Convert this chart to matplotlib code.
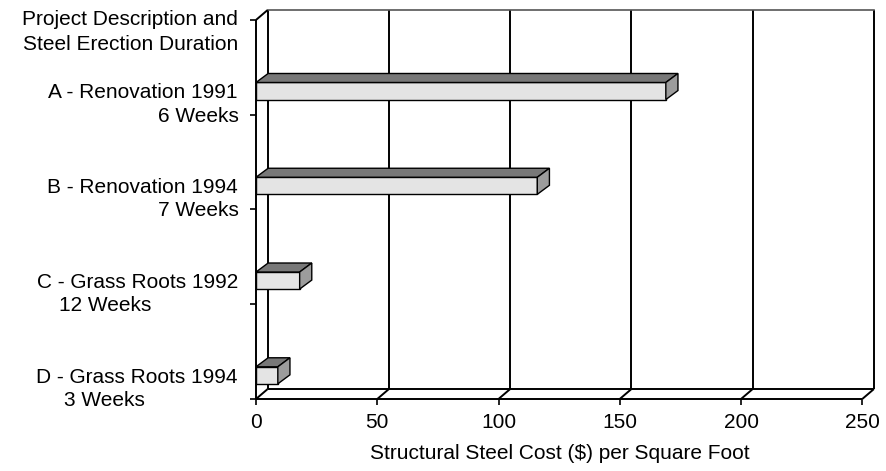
import matplotlib.pyplot as plt
from matplotlib.patches import Polygon
from matplotlib.transforms import blended_transform_factory

plt.rcParams['font.family'] = ['Liberation Sans', 'DejaVu Sans']

# Data (top to bottom as in the chart)
projects = ['A - Renovation 1991', 'B - Renovation 1994',
            'C - Grass Roots 1992', 'D - Grass Roots 1994']
durations = ['6 Weeks', '7 Weeks', '12 Weeks', '3 Weeks']
cost = [169, 116, 18, 9]
xticks = [0, 50, 100, 150, 200, 250]

# 3D look: depth offsets in data units
dx, dy = 4.8, 0.105      # frame depth
bdx, bdy = 5.0, 0.095    # bar depth
bh = 0.18                # bar front face height
xmax = 250
n = len(projects)

fig = plt.figure(figsize=(8.86, 4.71), dpi=100)
W, H = 886, 471
ax = fig.add_axes([256 / W, (H - 399) / H, (606.3 + 11.6) / W, (389) / H])
ax.set_xlim(0, xmax + dx)
ax.set_ylim(0, n + dy)
for s in ax.spines.values():
    s.set_visible(False)

lk = dict(color='black', lw=1.4, solid_capstyle='butt', zorder=1,
          clip_on=False)
# back wall grid lines
for v in xticks:
    ax.plot([v + dx, v + dx], [dy, n + dy], **lk)
# back top edge
ax.plot([dx, xmax + dx], [n + dy, n + dy], color='#555555', lw=1.2, zorder=1,
        clip_on=False)
# left side wall
ax.plot([0, 0], [0, n], **lk)
ax.plot([0, dx], [n, n + dy], **lk)
# floor
ax.plot([dx, xmax + dx], [dy, dy], **lk)
ax.plot([0, xmax], [0, 0], **lk)
for v in xticks:
    ax.plot([v, v + dx], [0, dy], **lk)

# bars
for k, val in enumerate(cost):
    yc = (n - 1 - k) + 0.25
    y0, y1 = yc - bh / 2, yc + bh / 2
    front = Polygon([(0, y0), (val, y0), (val, y1), (0, y1)], closed=True,
                    facecolor='#e4e4e4', edgecolor='black', lw=1.0, zorder=3)
    top = Polygon([(0, y1), (val, y1), (val + bdx, y1 + bdy), (bdx, y1 + bdy)],
                  closed=True, facecolor='#787878', edgecolor='black', lw=1.0,
                  zorder=3)
    side = Polygon([(val, y0), (val, y1), (val + bdx, y1 + bdy),
                    (val + bdx, y0 + bdy)], closed=True, facecolor='#9c9c9c',
                   edgecolor='black', lw=1.0, zorder=3)
    for p in (front, top, side):
        ax.add_patch(p)

# axes ticks
ax.set_xticks(xticks)
ax.set_xticklabels([str(v) for v in xticks])
ax.set_yticks(range(n + 1))
ax.set_yticklabels([])
ax.tick_params(axis='x', length=4, width=1.2, pad=6, labelsize=15)
ax.tick_params(axis='y', length=4.5, width=1.2)
ax.set_xlabel('Structural Steel Cost ($) per Square Foot', fontsize=15)
ax.xaxis.set_label_coords((560 - 256) / 617.9, -0.115)

# category labels
tr = blended_transform_factory(fig.transFigure, ax.transData)
ax.text(238 / W, n, 'Project Description and', transform=tr, ha='right',
        va='center', fontsize=15)
ax.text(238 / W, n - 0.264, 'Steel Erection Duration', transform=tr,
        ha='right', va='center', fontsize=15)
line2_x = [198, 198, 105, 104]
for k, (p, d) in enumerate(zip(projects, durations)):
    i = n - 1 - k
    ax.text(238 / W, i + 0.23, p, transform=tr, ha='right', va='center',
            fontsize=15)
    ax.text(line2_x[k] / W, i - 0.015, d, transform=tr, ha='center',
            va='center', fontsize=15)

fig.savefig('out.png', dpi=100)
